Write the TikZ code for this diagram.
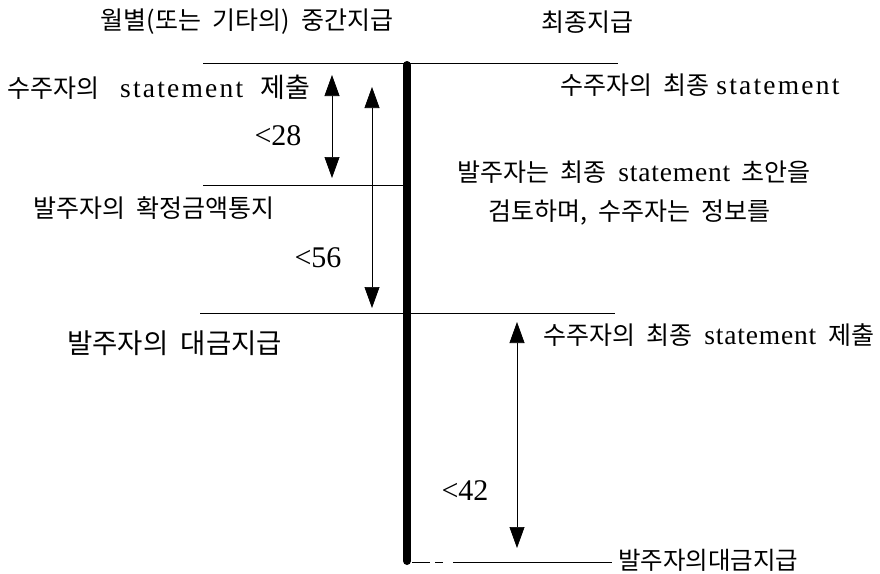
\documentclass[tikz,border=0pt]{standalone}
\usepackage{fontspec}
\setmainfont{Liberation Serif}
\newfontfamily\kr{Noto Sans CJK KR}[WordSpace=2]
\newfontfamily\latw{Liberation Serif}[Scale=1.1,LetterSpace=8]
\newfontfamily\latn{Liberation Serif}[Scale=1.1,LetterSpace=3]
\newfontfamily\num{Liberation Serif}
\usetikzlibrary{arrows.meta}
\newcommand\stmw{{\latw statement}}
\newcommand\stmn{{\latn statement}}
\begin{document}
\begin{tikzpicture}[x=1pt,y=-1pt,
  ktext/.style={inner sep=0pt, anchor=west, font=\kr\fontsize{25}{28}\selectfont},
  head/.style={inner sep=0pt, font=\kr\fontsize{25}{28}\selectfont},
  numlab/.style={inner sep=0pt, font=\num\fontsize{30}{32}\selectfont},
  thin/.style={line width=0.8pt},
  dim/.style={line width=0.7pt, {Triangle[width=15pt,length=21pt]}-{Triangle[width=15pt,length=21pt]}},
  bar/.style={line width=8pt, line cap=round}]
\useasboundingbox (0,0) rectangle (880,573);

% headers
\node[head] (h1) at (247,22) {월별(또는 기타의) 중간지급};
\node[head] (h2) at (587,22) {최종지급};

% texts
\node[ktext] (t1) at (7,87) {수주자의\hspace{21pt}\stmw\hspace{17pt}{\fontsize{27}{28}\selectfont 제출}};
\node[ktext] (t2) at (560,85) {수주자의 최종\hspace{7pt}\stmw};
\node[ktext] (t3) at (457,172) {발주자는 최종\hspace{12pt}\stmn\hspace{11pt}초안을};
\node[ktext] (t4) at (488,213) {검토하며, 수주자는 정보를};
\node[ktext] (t5) at (33,208) {발주자의 확정금액통지};
\node[ktext, font=\kr\fontsize{27.5}{30}\selectfont] (t6) at (67,343) {발주자의 대금지급};
\node[ktext, font=\kr\fontsize{24.5}{28}\selectfont] (t8) at (618,560) {발주자의대금지급};
\node[ktext] (t7) at (543,335) {수주자의 최종\hspace{12pt}\stmn\hspace{12pt}제출};

% labels
\node[numlab] (l28) at (278,136) {<28};
\node[numlab] (l56) at (318,258) {<56};
\node[numlab] (l42) at (465,491) {<42};

% coordinates
\coordinate (bt) at (407,65);
\coordinate (bb) at (407,561);
\coordinate (bbr) at (412,562);
\coordinate (L1a) at (203,63);
\coordinate (L1b) at (618,63);
\coordinate (L2a) at (203,185);
\coordinate (L2b) at (403,185);
\coordinate (L3a) at (200,313);
\coordinate (L3b) at (615,313);
\coordinate (L4a) at (443,562);
\coordinate (L4b) at (453,562);
\coordinate (t8l) at (612,562);
\coordinate (a28t) at (332,75);
\coordinate (a28b) at (332,178);
\coordinate (a56t) at (372,87);
\coordinate (a56b) at (372,308);
\coordinate (a42t) at (517,322);
\coordinate (a42b) at (517,548);

% horizontal lines
\draw[thin] (L1a) -- (L1b);
\draw[thin] (L2a) -- (L2b);
\draw[thin] (L3a) -- (L3b);
\draw[thin, dash pattern=on 18pt off 5pt on 8pt off 20pt] (bbr) -- (L4a);
\draw[thin] (L4b) -- (t8l);

% thick bar
\draw[bar] (bt) -- (bb);

% dimension arrows
\draw[dim] (a28t) -- (a28b);
\draw[dim] (a56t) -- (a56b);
\draw[dim] (a42t) -- (a42b);
\end{tikzpicture}
\end{document}
